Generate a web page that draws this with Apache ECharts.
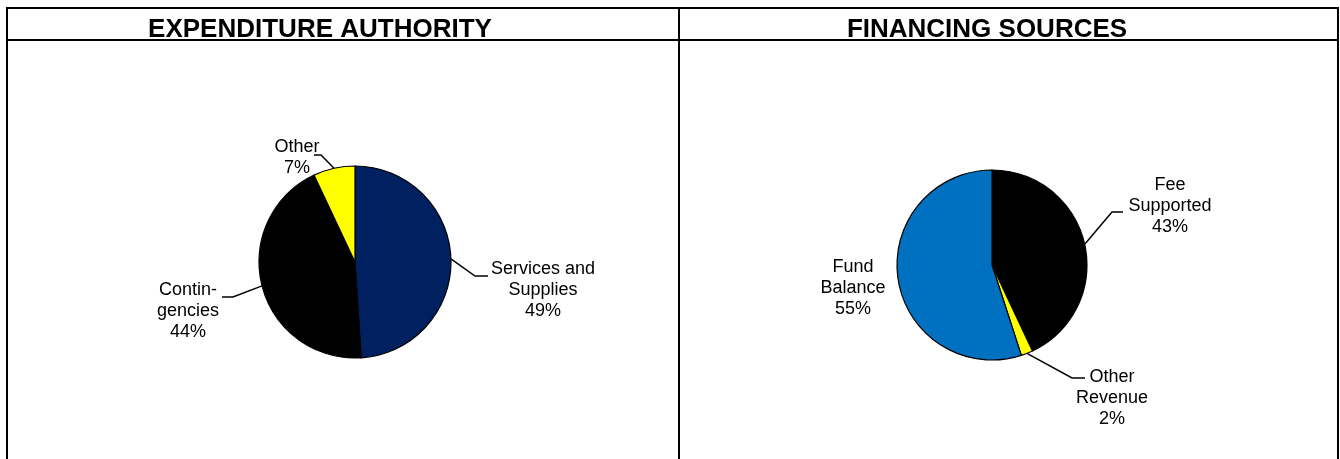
<!DOCTYPE html>
<html>
<head>
<meta charset="utf-8">
<script src="https://cdn.jsdelivr.net/npm/echarts@6/dist/echarts.min.js"></script>
<style>
    html, body { margin: 0; padding: 0; background: #fff; }
    #chart { width: 1340px; height: 459px; }
</style>
</head>
<body>
<div id="chart"></div>
<script>
// expenditure authority (percent of total)
var expNames = ['Services and\nSupplies', 'Contin-\ngencies', 'Other'];
var expValues = [49, 44, 7];
// financing sources (percent of total)
var finNames = ['Fee\nSupported', 'Other\nRevenue', 'Fund\nBalance'];
var finValues = [43, 2, 55];

var expColors = ['#002060', '#000000', '#FFFF00'];
var finColors = ['#000000', '#FFFF00', '#0070C0'];

// label centre + leader elbow/end, per slice
var expLabelPos = [
    { x: 543, y: 290, elbow: [475, 276], end: [488, 276] },
    { x: 188, y: 311, elbow: [233, 297], end: [222, 297] },
    { x: 297, y: 158, elbow: [321, 155], end: [314, 155] }
];
var finLabelPos = [
    { x: 1170, y: 206, elbow: [1112, 212], end: [1123, 212] },
    { x: 1112, y: 398, elbow: [1072, 378], end: [1085, 378] },
    { x: 853, y: 288 }
];

var fontFamily = '"Liberation Sans", Arial, sans-serif';

function buildData(names, values, colors) {
    return names.map(function (name, i) {
        return { name: name, value: values[i], itemStyle: { color: colors[i] } };
    });
}

function makeLayout(positions) {
    return function (params) {
        var p = positions[params.dataIndex];
        var out = { x: p.x, y: p.y, align: 'center', verticalAlign: 'middle' };
        if (p.elbow && params.labelLinePoints) {
            out.labelLinePoints = [params.labelLinePoints[0], p.elbow, p.end];
        }
        return out;
    };
}

var chart = echarts.init(document.getElementById('chart'));

var pieBase = {
    type: 'pie',
    radius: 96,
    startAngle: 90,
    clockwise: true,
    animation: false,
    silent: true,
    itemStyle: { borderColor: '#000', borderWidth: 1.2 },
    label: {
        show: true,
        formatter: '{b}\n{d}%',
        color: '#000',
        fontFamily: fontFamily,
        fontSize: 18,
        lineHeight: 21,
        align: 'center'
    },
    labelLine: { show: true, lineStyle: { color: '#000', width: 1.5 } }
};

var finData = buildData(finNames, finValues, finColors);
finData[2].labelLine = { show: false };

var titleStyle = { fontFamily: fontFamily, fontWeight: 'bold', fontSize: 26, color: '#000' };

var option = {
    backgroundColor: '#fff',
    title: [
        { text: 'EXPENDITURE AUTHORITY', left: 315, top: 12, textAlign: 'center', textStyle: titleStyle },
        { text: 'FINANCING SOURCES', left: 982, top: 12, textAlign: 'center', textStyle: titleStyle }
    ],
    graphic: [
        { type: 'polyline', shape: { points: [[7, 459], [7, 8], [1338, 8], [1338, 459]] },
          style: { stroke: '#000', lineWidth: 2, fill: null } },
        { type: 'line', shape: { x1: 7, y1: 40, x2: 1338, y2: 40 }, style: { stroke: '#000', lineWidth: 2 } },
        { type: 'line', shape: { x1: 679, y1: 8, x2: 679, y2: 459 }, style: { stroke: '#000', lineWidth: 2 } }
    ],
    series: [
        echarts.util.merge({
            name: 'Expenditure Authority',
            center: [355, 262],
            data: buildData(expNames, expValues, expColors),
            labelLayout: makeLayout(expLabelPos)
        }, pieBase),
        echarts.util.merge({
            name: 'Financing Sources',
            center: [992, 265],
            radius: 95,
            data: finData,
            labelLayout: makeLayout(finLabelPos)
        }, pieBase)
    ]
};

chart.setOption(option);
</script>
</body>
</html>
